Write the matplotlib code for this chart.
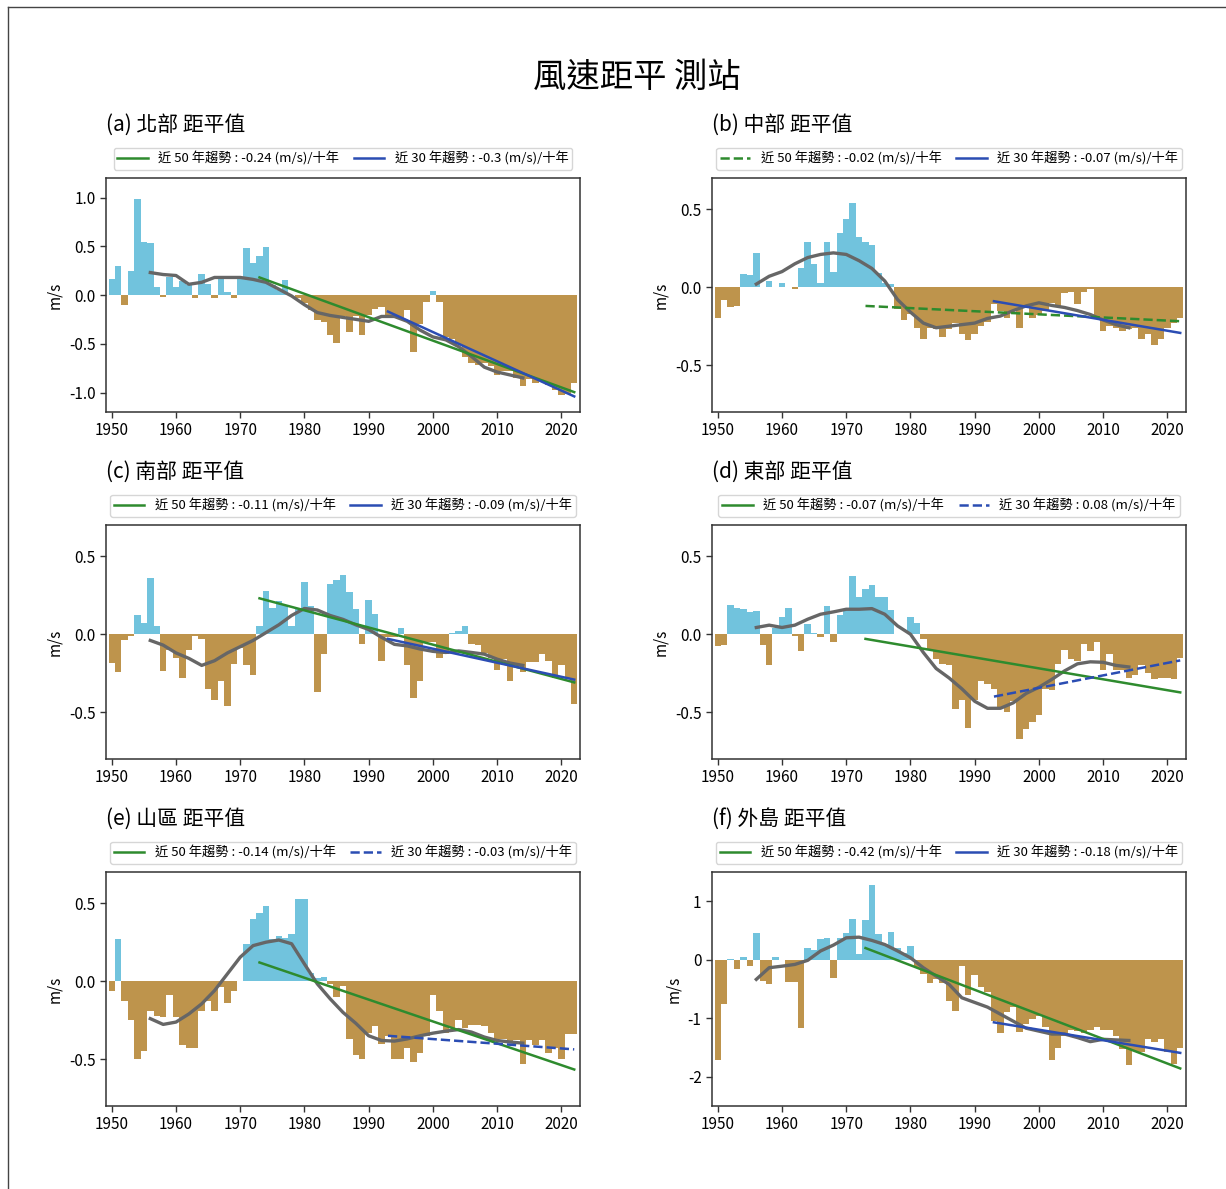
import numpy as np
import matplotlib.pyplot as plt
from matplotlib.lines import Line2D

plt.rcParams['font.family'] = ['Noto Sans CJK TC', 'DejaVu Sans']
plt.rcParams['axes.unicode_minus'] = False

# ---------- 年份 ----------
years = np.arange(1950, 2023)
smooth_years = np.arange(1956, 2015, 2)

# ---------- 年平均風速距平 (m/s), 1950-2022 ----------
north = [0.16, 0.30, -0.10, 0.25, 0.98, 0.54, 0.53, 0.08, -0.02, 0.18,
         0.08, 0.14, 0.10, -0.03, 0.22, 0.11, -0.03, 0.16, 0.03, -0.03,
         0.18, 0.48, 0.33, 0.40, 0.49, 0.10, 0.05, 0.15, 0.00, -0.03,
         -0.08, -0.15, -0.26, -0.28, -0.41, -0.49, -0.22, -0.38, -0.22, -0.41,
         -0.20, -0.14, -0.12, -0.20, -0.22, -0.25, -0.15, -0.58, -0.30, -0.07,
         0.04, -0.07, -0.43, -0.45, -0.50, -0.64, -0.70, -0.72, -0.70, -0.73,
         -0.82, -0.78, -0.78, -0.85, -0.93, -0.86, -0.90, -0.88, -0.92, -0.97,
         -1.03, -1.02, -0.90]
central = [-0.20, -0.08, -0.125, -0.12, 0.087, 0.08, 0.22, 0.00, 0.04, 0.00,
           0.03, 0.00, -0.01, 0.12, 0.29, 0.15, 0.03, 0.29, 0.10, 0.35,
           0.44, 0.54, 0.32, 0.29, 0.27, 0.09, 0.03, 0.02, -0.14, -0.21,
           -0.17, -0.26, -0.33, -0.26, -0.27, -0.32, -0.27, -0.23, -0.30, -0.34,
           -0.30, -0.25, -0.22, -0.11, -0.15, -0.20, -0.15, -0.26, -0.13, -0.20,
           -0.18, -0.15, -0.10, -0.12, -0.04, -0.03, -0.11, -0.03, -0.01, -0.20,
           -0.28, -0.25, -0.26, -0.28, -0.27, -0.26, -0.33, -0.30, -0.37, -0.33,
           -0.26, -0.23, -0.20]
south = [-0.185, -0.24, -0.04, -0.01, 0.12, 0.07, 0.36, 0.05, -0.235, -0.10,
         -0.15, -0.28, -0.10, -0.01, -0.03, -0.35, -0.42, -0.30, -0.46, -0.19,
         -0.09, -0.20, -0.26, 0.05, 0.275, 0.165, 0.21, 0.19, 0.05, 0.16,
         0.335, 0.18, -0.37, -0.13, 0.32, 0.35, 0.38, 0.27, 0.16, -0.06,
         0.22, 0.13, -0.17, -0.02, -0.02, 0.04, -0.20, -0.41, -0.30, -0.05,
         -0.05, -0.15, -0.13, 0.01, 0.02, 0.05, -0.06, -0.07, -0.12, -0.15,
         -0.23, -0.16, -0.30, -0.19, -0.24, -0.18, -0.18, -0.13, -0.17, -0.28,
         -0.20, -0.28, -0.45]
east = [-0.075, -0.07, 0.19, 0.165, 0.16, 0.14, 0.15, -0.07, -0.20, 0.04,
        0.11, 0.165, -0.01, -0.11, 0.065, 0.01, -0.02, 0.18, -0.05, 0.12,
        0.16, 0.37, 0.24, 0.29, 0.315, 0.24, 0.24, 0.155, 0.00, 0.00,
        0.11, 0.07, -0.03, -0.10, -0.16, -0.19, -0.20, -0.48, -0.42, -0.60,
        -0.42, -0.30, -0.32, -0.35, -0.47, -0.50, -0.43, -0.67, -0.61, -0.56,
        -0.52, -0.35, -0.36, -0.19, -0.10, -0.16, -0.17, -0.065, -0.11, -0.05,
        -0.23, -0.13, -0.23, -0.23, -0.28, -0.26, -0.20, -0.25, -0.29, -0.28,
        -0.28, -0.29, -0.155]
mountain = [-0.06, 0.27, -0.125, -0.25, -0.50, -0.45, -0.19, -0.225, -0.23, -0.09,
            -0.23, -0.41, -0.43, -0.43, -0.19, -0.13, -0.19, -0.04, -0.14, -0.064,
            0.00, 0.24, 0.40, 0.44, 0.48, 0.27, 0.29, 0.28, 0.30, 0.53,
            0.53, 0.05, 0.02, 0.03, -0.02, -0.10, -0.03, -0.37, -0.475, -0.50,
            -0.33, -0.29, -0.40, -0.35, -0.50, -0.50, -0.43, -0.52, -0.46, -0.35,
            -0.09, -0.19, -0.33, -0.30, -0.25, -0.30, -0.28, -0.28, -0.29, -0.33,
            -0.37, -0.37, -0.39, -0.38, -0.53, -0.38, -0.41, -0.38, -0.46, -0.43,
            -0.50, -0.34, -0.34]
islands = [-1.72, -0.75, 0.02, -0.15, 0.045, -0.10, 0.45, -0.36, -0.41, 0.045,
           0.00, -0.38, -0.38, -1.17, 0.20, 0.16, 0.36, 0.375, -0.32, 0.375,
           0.46, 0.69, 0.10, 0.68, 1.27, 0.44, 0.27, 0.47, 0.20, 0.12,
           0.23, -0.14, -0.24, -0.39, -0.33, -0.39, -0.70, -0.88, -0.10, -0.60,
           -0.26, -0.47, -0.55, -1.05, -1.26, -0.90, -0.80, -1.23, -1.10, -1.02,
           -0.96, -1.15, -1.72, -1.50, -1.30, -1.20, -1.22, -1.25, -1.20, -1.15,
           -1.20, -1.20, -1.30, -1.53, -1.80, -1.56, -1.58, -1.36, -1.40, -1.36,
           -1.58, -1.78, -1.50]

# ---------- 平滑曲線 (1956-2014, 每兩年) ----------
north_smooth = [0.23, 0.21, 0.20, 0.11, 0.13, 0.18, 0.18, 0.18, 0.16, 0.13,
                0.06, -0.01, -0.10, -0.18, -0.21, -0.23, -0.25, -0.27, -0.22, -0.22,
                -0.27, -0.36, -0.43, -0.46, -0.53, -0.63, -0.74, -0.79, -0.82, -0.85]
central_smooth = [0.02, 0.07, 0.10, 0.15, 0.19, 0.21, 0.22, 0.21, 0.17, 0.12,
                  0.04, -0.08, -0.16, -0.23, -0.26, -0.25, -0.24, -0.23, -0.20, -0.185,
                  -0.15, -0.12, -0.10, -0.117, -0.13, -0.15, -0.175, -0.21, -0.24, -0.26]
south_smooth = [-0.04, -0.07, -0.12, -0.155, -0.20, -0.17, -0.12, -0.08, -0.04, 0.01,
                0.06, 0.12, 0.165, 0.155, 0.12, 0.095, 0.06, 0.03, -0.02, -0.065,
                -0.075, -0.095, -0.11, -0.117, -0.107, -0.117, -0.128, -0.16, -0.185, -0.20]
east_smooth = [0.043, 0.058, 0.043, 0.058, 0.096, 0.128, 0.143, 0.16, 0.16, 0.164,
               0.128, 0.053, 0.00, -0.117, -0.22, -0.28, -0.35, -0.43, -0.475, -0.475,
               -0.44, -0.38, -0.34, -0.29, -0.235, -0.19, -0.177, -0.18, -0.20, -0.21]
mountain_smooth = [-0.24, -0.277, -0.262, -0.21, -0.145, -0.06, 0.047, 0.154, 0.228, 0.25,
                   0.264, 0.24, 0.11, -0.017, -0.113, -0.20, -0.27, -0.35, -0.38, -0.384,
                   -0.37, -0.35, -0.333, -0.32, -0.31, -0.326, -0.358, -0.38, -0.39, -0.397]
islands_smooth = [-0.335, -0.136, -0.11, -0.08, -0.01, 0.15, 0.25, 0.375, 0.386, 0.33,
                  0.26, 0.15, 0.034, -0.136, -0.28, -0.42, -0.65, -0.73, -0.81, -0.93,
                  -1.05, -1.17, -1.22, -1.27, -1.27, -1.33, -1.40, -1.36, -1.37, -1.38]

# ---------- 趨勢 ((m/s)/十年) 與起點值 ----------
trend50 = [-0.24, -0.02, -0.11, -0.07, -0.14, -0.42]
trend30 = [-0.3, -0.07, -0.09, 0.08, -0.03, -0.18]
start50 = [0.18, -0.12, 0.23, -0.03, 0.12, 0.20]
start30 = [-0.17, -0.09, -0.03, -0.40, -0.35, -1.07]
dashed50 = [False, True, False, False, False, False]
dashed30 = [False, False, False, True, True, False]

titles = ['(a) 北部 距平值', '(b) 中部 距平值', '(c) 南部 距平值',
          '(d) 東部 距平值', '(e) 山區 距平值', '(f) 外島 距平值']
series = [north, central, south, east, mountain, islands]
smooths = [north_smooth, central_smooth, south_smooth, east_smooth,
           mountain_smooth, islands_smooth]
ylims = [(-1.2, 1.2), (-0.8, 0.7), (-0.8, 0.7), (-0.8, 0.7), (-0.8, 0.7), (-2.5, 1.5)]
yticks = [[-1.0, -0.5, 0.0, 0.5, 1.0], [-0.5, 0.0, 0.5], [-0.5, 0.0, 0.5],
          [-0.5, 0.0, 0.5], [-0.5, 0.0, 0.5], [-2, -1, 0, 1]]

POS_COLOR = '#71C3DD'
NEG_COLOR = '#BE944C'
SMOOTH_COLOR = '#666666'
GREEN = '#2E8B2E'
BLUE = '#2B4DB3'

W, H = 1226, 1189
fig = plt.figure(figsize=(W / 100, H / 100), dpi=100)

# 外框
fig.add_artist(Line2D([8 / W, 1], [1 - 7 / H, 1 - 7 / H], color='#444444', lw=1))
fig.add_artist(Line2D([8 / W, 8 / W], [0, 1 - 7 / H], color='#444444', lw=1))

fig.text(637 / W, 1 - 77 / H, '風速距平 測站', fontsize=24, ha='center', va='center')

lefts = [106, 712]
tops = [178, 525, 872]
aw, ah = 474, 234

for i in range(6):
    row, col = i // 2, i % 2
    ax = fig.add_axes([lefts[col] / W, 1 - (tops[row] + ah) / H, aw / W, ah / H])
    vals = np.array(series[i])
    colors = [POS_COLOR if v >= 0 else NEG_COLOR for v in vals]
    ax.bar(years, vals, width=1.0, color=colors, linewidth=0, zorder=1)
    ax.plot(smooth_years, smooths[i], color=SMOOTH_COLOR, lw=2.4, zorder=2)

    x50 = np.array([1973, 2022])
    y50 = start50[i] + trend50[i] / 10 * (x50 - 1973)
    x30 = np.array([1993, 2022])
    y30 = start30[i] + trend30[i] / 10 * (x30 - 1993)
    ax.plot(x50, y50, color=GREEN, lw=1.8, ls='--' if dashed50[i] else '-', zorder=3,
            label=f'近 50 年趨勢 : {trend50[i]:g} (m/s)/十年')
    ax.plot(x30, y30, color=BLUE, lw=1.8, ls='--' if dashed30[i] else '-', zorder=4,
            label=f'近 30 年趨勢 : {trend30[i]:g} (m/s)/十年')

    ax.set_xlim(1949.1, 2022.9)
    ax.set_ylim(*ylims[i])
    ax.set_xticks(range(1950, 2021, 10))
    ax.set_yticks(yticks[i])
    if i == 5:
        ax.set_yticklabels([f'{t:d}' for t in yticks[i]])
    else:
        ax.set_yticklabels([f'{t:.1f}' for t in yticks[i]])
    ax.tick_params(labelsize=11, length=4, width=1, color='#333333')
    for s in ax.spines.values():
        s.set_color('#333333')
        s.set_linewidth(1.1)
    ax.set_ylabel('m/s', fontsize=11)
    ax.set_title(titles[i], loc='left', fontsize=15, pad=34)
    ax.legend(loc='lower center', bbox_to_anchor=(0.5, 1.035), ncol=2, fontsize=9.5,
              borderaxespad=0, handlelength=2.3, columnspacing=1.1,
              handletextpad=0.8, borderpad=0.3)

fig.savefig('out.png', dpi=100)
